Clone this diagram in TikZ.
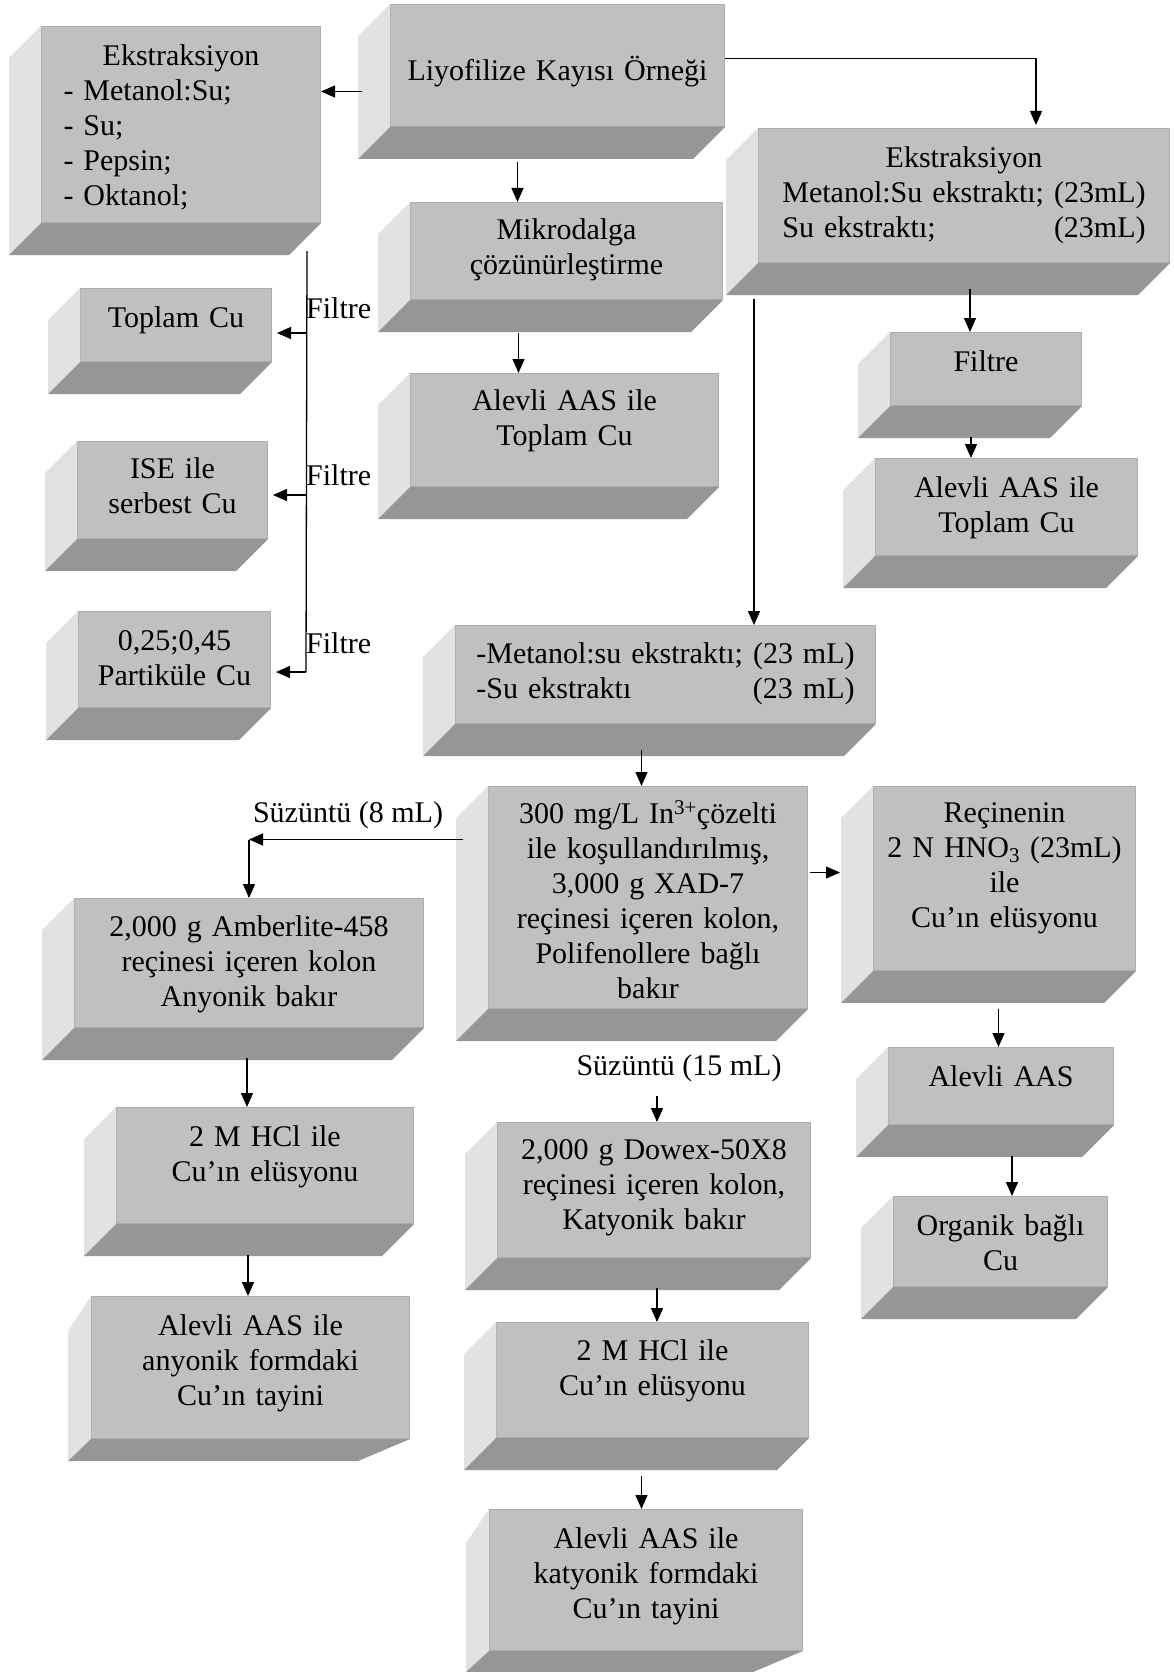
\documentclass[tikz,border=0pt]{standalone}
\usepackage{fontspec}
\setmainfont{Liberation Serif}
\usetikzlibrary{arrows.meta,calc}

\definecolor{boxface}{RGB}{192,192,192}
\definecolor{boxside}{RGB}{226,226,226}
\definecolor{boxbottom}{RGB}{150,150,150}
\definecolor{boxedge}{RGB}{172,172,172}

\newcommand{\yazi}{\fontsize{30}{35}\selectfont}

% left and bottom faces of a box: node, left dx, left dy, right dx, bottom dy
\newcommand{\sides}[5]{%
  \fill[boxside] (#1.north west) -- ++(-#2,#3) -- ($(#1.south west)+(-#2,#5)$) -- (#1.south west) -- cycle;
  \fill[boxbottom] (#1.south west) -- (#1.south east) -- ++(-#4,#5) -- ($(#1.south west)+(-#2,#5)$) -- cycle;
}

\tikzset{
  panel/.style={fill=boxface, draw=boxedge, line width=1pt, inner sep=0pt, align=center, anchor=north west, font=\yazi},
  lbl/.style={inner sep=0pt, font=\yazi},
  arr/.style={-{Triangle[length=14pt,width=12pt]}, line width=1.3pt},
}

\begin{document}
\begin{tikzpicture}[x=1pt,y=-1pt]

\path[use as bounding box, fill=white] (0,0) rectangle (1174,1672);

%Sample
\node[panel, text width=334pt, text height=76pt, text depth=46pt] (liyo) at (390,4) {Liyofilize Kayısı Örneği};

% Extraction, left branch
\node[panel, align=left, inner xsep=22pt, text width=235pt, text height=39pt, text depth=157pt] (ekstrL) at (41,26) {\makebox[\linewidth]{Ekstraksiyon}\\- Metanol:Su;\\- Su;\\- Pepsin;\\- Oktanol;};
\node[panel, text width=191pt, text height=39pt, text depth=34pt] (toplam) at (80,288) {Toplam Cu};
\node[panel, text width=190pt, text height=37pt, text depth=60pt] (ise) at (77,441) {ISE ile\\serbest Cu};
\node[panel, text width=192pt, text height=39pt, text depth=57pt] (part) at (78,611) {0,25;0,45\\Partiküle Cu};

% Microwave
\node[panel, text width=312pt, text height=37pt, text depth=60pt] (mikro) at (410,202) {Mikrodalga\\çözünürleştirme};
\node[panel, text width=308pt, text height=37pt, text depth=76pt] (alevliM) at (410,373) {Alevli AAS ile\\Toplam Cu};

% Extraction, right branch
\node[panel, text width=411pt, text height=39pt, text depth=95pt] (ekstrR) at (758,128) {\begin{tabular}[t]{@{}l@{ }r@{}}\multicolumn{2}{@{}c@{}}{Ekstraksiyon}\\Metanol:Su ekstraktı; & (23mL)\\Su ekstraktı; & (23mL)\end{tabular}};
\node[panel, text width=191pt, text height=39pt, text depth=34pt] (filtreR) at (890,332) {Filtre};
\node[panel, text width=262pt, text height=39pt, text depth=58pt] (alevliR) at (875,458) {Alevli AAS ile\\Toplam Cu};

% Columns
\node[panel, text width=420pt, text height=38pt, text depth=60pt] (metanol) at (455,625) {\begin{tabular}[t]{@{}l@{ }r@{}}-Metanol:su ekstraktı; & (23 mL)\\-Su ekstraktı & (23 mL)\end{tabular}};
\node[panel, text width=319pt, text height=37pt, text depth=185pt] (xad) at (488,786) {300 mg/L In\textsuperscript{3+}çözelti\\ile koşullandırılmış,\\3,000 g XAD-7\\reçinesi içeren kolon,\\Polifenollere bağlı\\bakır};
\node[panel, text width=262pt, text height=36pt, text depth=148pt] (recine) at (873,786) {Reçinenin\\2 N HNO\textsubscript{3} (23mL)\\ile\\Cu’ın elüsyonu};
\node[panel, text width=349pt, text height=38pt, text depth=91pt] (amber) at (74,898) {2,000 g Amberlite-458\\reçinesi içeren kolon\\Anyonik bakır};
\node[panel, text width=297pt, text height=39pt, text depth=77pt] (hclL) at (116,1107) {2 M HCl ile\\Cu’ın elüsyonu};
\node[panel, text width=318pt, text height=39pt, text depth=103pt] (anyon) at (91,1296) {Alevli AAS ile\\anyonik formdaki\\Cu’ın tayini};
\node[panel, text width=313pt, text height=37pt, text depth=98pt] (dowex) at (497,1122) {2,000 g Dowex-50X8\\reçinesi içeren kolon,\\Katyonik bakır};
\node[panel, text width=312pt, text height=38pt, text depth=77pt] (hclM) at (496,1322) {2 M HCl ile\\Cu’ın elüsyonu};
\node[panel, text width=313pt, text height=39pt, text depth=102pt] (katyon) at (489,1509) {Alevli AAS ile\\katyonik formdaki\\Cu’ın tayini};
\node[panel, text width=225pt, text height=39pt, text depth=38pt] (aas) at (888,1047) {Alevli AAS};
\node[panel, text width=214pt, text height=39pt, text depth=51pt] (organik) at (893,1196) {Organik bağlı\\Cu};

% 3D sides
\foreach \n in {liyo,ekstrL,toplam,ise,part,mikro,alevliM,ekstrR,filtreR,alevliR,metanol,xad,recine,amber,hclL,dowex,hclM,aas,organik}
  {\sides{\n}{32}{32}{32}{32}}
\sides{anyon}{23}{35}{52}{22}
\sides{katyon}{23}{34}{50}{21}

% Labels
\node[lbl, anchor=base west] (filtre1) at (306,318) {Filtre};
\node[lbl, anchor=base west] (filtre2) at (306,485) {Filtre};
\node[lbl, anchor=base west] (filtre3) at (306,653) {Filtre};
\node[lbl, anchor=base] (suz8) at (348,822) {Süzüntü (8 mL)};
\node[lbl, anchor=base] (suz15) at (679,1075) {Süzüntü (15 mL)};

% Arrow tails
\coordinate (t1) at ([xshift=-40pt,yshift=-35pt]liyo.south);
\coordinate (t2) at ([xshift=-48pt,yshift=-33pt]mikro.south);
\coordinate (t3) at ([xshift=-28pt,yshift=-26pt]liyo.west);
\coordinate (t5) at ([xshift=6pt,yshift=-26pt]ekstrR.south);
\coordinate (t6) at ([xshift=-15pt,yshift=-31pt]filtreR.south);
\coordinate (t7) at ([xshift=-210pt,yshift=-36pt]ekstrR.south);
\coordinate (t8) at ([xshift=-24pt,yshift=-26pt]metanol.south);
\coordinate (t9) at ([xshift=2pt,yshift=25pt]xad.east);
\coordinate (t10) at ([xshift=-25pt,yshift=58pt]xad.west);
\coordinate (t11) at ([xshift=3pt,yshift=26pt]dowex.north);
\coordinate (t12) at ([xshift=3pt,yshift=-30pt]dowex.south);
\coordinate (t13) at ([xshift=-11pt,yshift=-38pt]hclM.south);
\coordinate (t14) at ([xshift=-2pt,yshift=-30pt]amber.south);
\coordinate (t15) at ([xshift=-17pt,yshift=-31pt]hclL.south);
\coordinate (t16) at ([xshift=-6pt,yshift=-38pt]recine.south);
\coordinate (t17) at ([xshift=11pt,yshift=-31pt]aas.south);
\coordinate (f0) at ([xshift=-14pt,yshift=-28pt]ekstrL.south east);
\coordinate (f1) at (306,333);
\coordinate (f2) at (306,495);
\coordinate (f3) at (306,672);

% Arrows
\draw[arr] (t3) -- (t3 -| ekstrL.east);
\draw[arr] ([yshift=7pt]liyo.east) -| ([xshift=72pt,yshift=3pt]ekstrR.north);
\draw[arr] (t1) -- (t1 |- mikro.north);
\draw[arr] (t2) -- (t2 |- alevliM.north);
\draw[arr] (t5) -- (t5 |- filtreR.north);
\draw[arr] (t6) -- (t6 |- alevliR.north);
\draw[arr] (t7) -- (t7 |- metanol.north);
\draw[arr] (t8) -- (t8 |- xad.north);
\draw[arr, shorten >=33pt] (t9) -- (t9 -| recine.west);
\draw[arr] (t10) -- (t10 -| amber.north);
\draw[arr] (t10 -| amber.north) -- (amber.north);
\draw[arr] (t11) -- (t11 |- dowex.north);
\draw[arr] (t12) -- (t12 |- hclM.north);
\draw[arr] (t13) -- (t13 |- katyon.north);
\draw[arr] (t14) -- (t14 |- hclL.north);
\draw[arr] (t15) -- (t15 |- anyon.north);
\draw[arr] (t16) -- (t16 |- aas.north);
\draw[arr] (t17) -- (t17 |- organik.north);

% Filtre branch
\draw[line width=1.3pt] (f0) -- (f3);
\draw[arr, shorten >=5pt] (f1) -- (f1 -| toplam.east);
\draw[arr, shorten >=5pt] (f2) -- (f2 -| ise.east);
\draw[arr, shorten >=5pt] (f3) -- (f3 -| part.east);

\end{tikzpicture}
\end{document}
